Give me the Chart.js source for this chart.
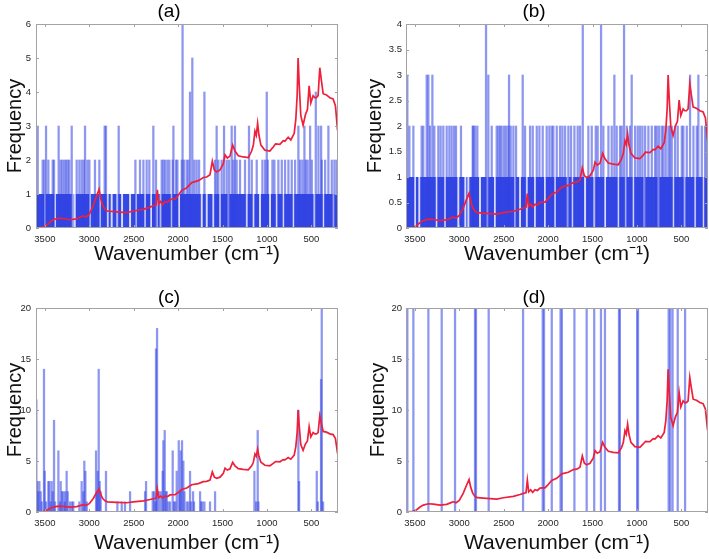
<!DOCTYPE html>
<html><head><meta charset="utf-8">
<script src="https://cdn.jsdelivr.net/npm/chart.js@4.4.1/dist/chart.umd.min.js"></script>
<style>
html,body{margin:0;padding:0;background:#fff;width:709px;height:559px;overflow:hidden}
canvas{position:absolute;display:block}
</style></head><body>
<canvas id="pa" width="350" height="280" style="left:0;top:0"></canvas>
<canvas id="pb" width="349" height="280" style="left:360px;top:0"></canvas>
<canvas id="pc" width="350" height="279" style="left:0;top:280px"></canvas>
<canvas id="pd" width="349" height="279" style="left:360px;top:280px"></canvas>
<script>
// ---------- data ----------
const wavenumberTicks = [500, 1000, 1500, 2000, 2500, 3000, 3500];
const wavenumberRange = [200, 3600];
const panelTitles = ['(a)', '(b)', '(c)', '(d)'];
const yTicksA = [0, 1, 2, 3, 4, 5, 6];
const yTicksB = [0, 0.5, 1, 1.5, 2, 2.5, 3, 3.5, 4];
const yTicksC = [0, 5, 10, 15, 20];
const yTicksD = [0, 5, 10, 15, 20];

// measured spectrum (red), read in panel (d) units (strongest band = 14)
const spectrumWavenumber = [3600,3517,3480,3442,3405,3348,3292,3217,3142,3086,3067,3037,3000,2955,2920,2890,2872,2849,2823,2797,2692,2579,2504,2391,2316,2271,2249,2234,2219,2196,2174,2147,2121,2091,2061,2035,2008,1960,1903,1847,1772,1716,1678,1641,1615,1592,1566,1528,1491,1472,1446,1416,1386,1360,1322,1266,1210,1172,1153,1135,1120,1105,1090,1068,1023,967,929,903,854,817,798,761,731,693,675,660,649,637,619,593,567,544,525,506,480,461,443,424,405,386,367,330,292,255,229,206,200];
const spectrumIntensity = [0,0.07,0.23,0.49,0.68,0.81,0.78,0.68,0.75,0.94,1.0,0.91,1.14,1.85,2.6,3.19,2.44,1.85,1.53,1.40,1.33,1.27,1.40,1.53,1.72,1.85,1.89,3.15,1.98,2.18,1.92,2.18,2.11,2.34,2.37,2.37,2.6,3.09,3.3,3.74,3.9,4.16,4.2,4.39,5.5,4.78,4.62,4.78,5.3,6.02,5.76,5.92,6.83,6.34,5.95,5.85,5.79,6.34,6.83,7.97,7.64,8.62,7.64,6.83,6.41,6.34,6.67,6.93,6.89,7.19,7.15,7.48,7.25,7.80,8.94,10.9,14.0,11.9,9.27,8.46,9.33,9.76,11.7,10.3,10.9,10.73,10.73,10.9,13.2,12.1,11.06,10.96,10.73,10.63,10.08,8.13,7.9];
const spectrumReference = 14;
const spectrumPeakA = 5, spectrumPeakB = 3, spectrumPeakC = 10, spectrumPeakD = 14;

// histogram bars [wavenumber, frequency] (frequency >= 2 in a, b)
const barsA = [[3581,3],[3525,2],[3506,2],[3487,3],[3461,2],[3412,2],[3397,2],[3345,3],[3322,2],[3303,2],
 [3281,2],[3262,2],[3243,2],[3225,2],[3198,3],[3142,2],[3112,2],[3086,2],[3063,2],[3048,3],
 [3022,2],[2999,2],[2936,2],[2887,2],[2827,3],[2812,3],[2669,3],[2481,2],[2429,2],[2391,2],
 [2354,2],[2324,2],[2279,3],[2249,2],[2185,2],[2166,2],[2147,2],[2121,2],[2098,2],[2061,2],
 [2053,3],[2023,2],[2008,2],[1959,2],[1950,6],[1933,2],[1903,2],[1884,2],[1866,4],[1840,5],
 [1817,2],[1791,2],[1764,2],[1704,4],[1584,2],[1566,3],[1547,2],[1510,2],[1483,3],[1453,2],
 [1427,2],[1397,3],[1378,2],[1360,3],[1341,2],[1303,2],[1247,2],[1202,3],[1171,2],[1115,2],
 [1051,2],[1021,2],[1002,4],[991,2],[938,2],[916,2],[871,2],[833,2],[796,2],[758,2],
 [721,2],[683,2],[646,3],[627,2],[601,2],[578,3],[563,2],[541,2],[514,3],[495,2],
 [450,4],[420,3],[390,3],[383,2],[345,2],[308,3],[270,2],[240,2],[214,2]];
// wavenumbers where the frequency-1 layer is empty
const gapsA = [3499,3386,3187,3161,2992,2879,2793,2748,2684,2631,2541,2474,2372,2305,2241,2196,2072,1990,1734,1678,1603,1528,1434,1228,1153,1078,965,890,815,702,465,364,251];

const barsB = [[3585,3],[3562,2],[3517,2],[3424,2],[3405,2],[3367,3],[3348,3],[3330,2],[3303,3],[3281,2],
 [3236,2],[3210,2],[3180,2],[3142,2],[3112,2],[3086,2],[3059,2],[3037,2],[2981,2],[2849,2],
 [2842,2],[2823,2],[2797,2],[2699,4],[2673,3],[2635,2],[2579,2],[2560,2],[2541,2],[2523,2],
 [2496,2],[2474,2],[2448,2],[2440,3],[2421,2],[2391,2],[2361,2],[2286,3],[2260,2],[2203,2],
 [2173,2],[2128,2],[2098,2],[2061,2],[2016,2],[1986,2],[1959,2],[1941,2],[1903,2],
 [1866,2],[1839,2],[1809,2],[1772,2],[1742,2],[1704,2],[1667,2],[1640,2],[1610,4],[1547,2],
 [1509,2],[1464,2],[1442,2],[1404,4],[1378,2],[1321,2],[1284,2],[1254,3],[1228,2],[1190,2],
 [1171,2],[1145,4],[1115,2],[1078,2],[1059,3],[1021,2],[991,2],[965,2],[938,2],[908,2],
 [871,2],[833,2],[796,2],[777,2],[751,2],[721,2],[702,2],[676,2],[646,2],[627,2],
 [608,2],[571,2],[541,2],[495,2],[477,2],[439,2],[402,3],[364,2],[326,2],[308,3],
 [270,2],[233,2],[214,2]];
const gapsB = [3499,3450,3255,3161,3011,2932,2898,2767,2684,2598,2372,2316,2241,2147,2035,1922,1779,1727,1584,1479,1359,1209,1126,1040,916,758,589,465,345,251];

const barsC = [[3596,11],[3585,3],[3574,2],[3562,3],[3547,2],[3536,1],[3510,14],[3502,4],[3487,1],[3461,3],
 [3450,3],[3435,1],[3424,3],[3412,2],[3397,9],[3386,1],[3348,6],[3330,1],[3322,3],[3307,2],
 [3292,2],[3277,1],[3270,2],[3255,4],[3243,2],[3217,1],[3195,1],[3180,1],[3112,1],[3086,3],
 [3067,2],[3056,5],[3044,4],[3029,1],[2924,6],[2913,2],[2905,4],[2894,14],[2883,3],[2872,2],
 [2812,4],[2684,1],[2635,1],[2598,1],[2541,2],[2372,2],[2361,3],[2286,2],[2271,2],[2256,1],
 [2249,16],[2237,18],[2219,2],[2196,2],[2174,4],[2166,7],[2151,8],[2140,2],[2128,2],[2110,1],
 [2091,1],[2061,6],[2046,1],[2031,1],[2016,4],[1993,7],[1978,2],[1971,6],[1956,7],[1941,5],
 [1929,2],[1884,1],[1903,1],[1866,4],[1854,1],[1832,2],[1821,1],[1753,2],[1742,1],[1727,1],
 [1704,1],[1641,1],[1584,2],[1141,4],[1122,1],[1104,8],[1096,1],[646,10],[638,3],[439,4],
 [428,1],[391,13],[383,20],[368,1]];

// panel (d): every bar runs past the top of the axis (shown at the 20 limit)
const barsD = [[3585,20],[3517,20],[3348,20],[3198,20],[3048,20],[2823,20],[2812,20],[2669,20],[2282,20],[2061,20],
 [2046,20],[1959,20],[1860,20],[1845,20],[1704,20],[1566,20],[1481,20],[1405,20],[1360,20],[1202,20],
 [1192,20],[998,20],[988,20],[643,20],[625,20],[599,20],[541,20],[458,20]];

// ---------- drawing ----------
const FONT = "'Liberation Sans', Arial, Helvetica, sans-serif";
const BASE_BLUE = 'rgb(52,72,228)';
const BAR_BLUE = 'rgba(50,66,228,0.55)';
const GAP = 'rgba(255,255,255,0.8)';
const RED = 'rgb(238,32,60)';

const frame = {
  id: 'frame',
  afterDatasetsDraw(chart) {
    const {ctx, chartArea: a, scales: {x, y}} = chart;
    ctx.save();
    ctx.strokeStyle = '#a3a3a3';
    ctx.lineWidth = 1;
    ctx.strokeRect(Math.round(a.left) + 0.5, Math.round(a.top) + 0.5, Math.round(a.right - a.left) - 1, Math.round(a.bottom - a.top) - 1);
    ctx.beginPath();
    x.ticks.forEach(t => {
      const p = Math.round(x.getPixelForValue(t.value)) + 0.5;
      ctx.moveTo(p, a.bottom); ctx.lineTo(p, a.bottom - 3);
      ctx.moveTo(p, a.top); ctx.lineTo(p, a.top + 3);
    });
    y.ticks.forEach(t => {
      const p = Math.round(y.getPixelForValue(t.value)) + 0.5;
      ctx.moveTo(a.left, p); ctx.lineTo(a.left + 3, p);
      ctx.moveTo(a.right, p); ctx.lineTo(a.right - 3, p);
    });
    ctx.stroke();
    ctx.restore();
  }
};

function build(id, P) {
  const datasets = [];
  if (P.gaps) {
    datasets.push({type: 'line', data: wavenumberRange.map(w => ({x: w, y: 1})), fill: 'origin',
      backgroundColor: BASE_BLUE, borderColor: 'transparent', borderWidth: 0, pointRadius: 0, order: 5});
    datasets.push({type: 'bar', data: P.gaps.map(w => ({x: w, y: 1})), backgroundColor: GAP,
      barThickness: 1.3, grouped: false, order: 4});
  }
  datasets.push({type: 'bar', data: P.bars.map(b => ({x: b[0], y: b[1]})), backgroundColor: BAR_BLUE,
    barThickness: 1.6, grouped: false, order: 3});
  datasets.push({type: 'line', data: spectrumWavenumber.map((w, i) => ({x: w, y: spectrumIntensity[i] * P.peak / spectrumReference})),
    borderColor: RED, borderWidth: 1.7, pointRadius: 0, fill: false, tension: 0, order: 1});

  new Chart(document.getElementById(id), {
    type: 'bar',
    data: {datasets},
    plugins: [frame],
    options: {
      responsive: false, animation: false, devicePixelRatio: 1,
      layout: {padding: {left: 0, right: P.pr, top: 0, bottom: 0}},
      plugins: {
        legend: {display: false}, tooltip: {enabled: false},
        title: {display: true, text: P.title, color: '#000',
          font: {family: FONT, size: 19, weight: 'normal', lineHeight: 1},
          padding: {top: P.tt, bottom: P.tb}}
      },
      scales: {
        x: {type: 'linear', min: wavenumberRange[0], max: wavenumberRange[1], reverse: true, offset: false,
          afterBuildTicks: s => { s.ticks = wavenumberTicks.map(v => ({value: v})); },
          afterFit: s => { s.height = P.xh; },
          grid: {display: false, drawTicks: false}, border: {display: false},
          ticks: {autoSkip: false, maxRotation: 0, padding: 5.3, color: '#262626',
            font: {family: FONT, size: 9.5}, callback: v => String(v)},
          title: {display: true, text: 'Wavenumber (cm⁻¹)', color: '#111',
            font: {family: FONT, size: 21, lineHeight: 1.2}, padding: {top: 0, bottom: P.xtb}}},
        y: {type: 'linear', min: 0, max: P.yticks[P.yticks.length - 1],
          afterBuildTicks: s => { s.ticks = P.yticks.map(v => ({value: v})); },
          afterFit: s => { s.width = P.yw; },
          grid: {display: false, drawTicks: false}, border: {display: false},
          ticks: {autoSkip: false, padding: P.ypad, color: '#262626',
            font: {family: FONT, size: 9.5}, callback: v => String(v)},
          title: {display: true, text: 'Frequency', color: '#111',
            font: {family: FONT, size: 20, lineHeight: 1.2}, padding: {top: P.ytp, bottom: 0}}}
      }
    }
  });
}

build('pa', {title: panelTitles[0], bars: barsA, gaps: gapsA, peak: spectrumPeakA, yticks: yTicksA,
  pr: 12, tt: 2, tb: 3, xh: 52, xtb: 13.4, yw: 36, ypad: 5, ytp: 3});
build('pb', {title: panelTitles[1], bars: barsB, gaps: gapsB, peak: spectrumPeakB, yticks: yTicksB,
  pr: 1, tt: 2, tb: 3, xh: 52, xtb: 13.4, yw: 46, ypad: 4, ytp: 3});
build('pc', {title: panelTitles[2], bars: barsC, gaps: null, peak: spectrumPeakC, yticks: yTicksC,
  pr: 12, tt: 8, tb: 1, xh: 47, xtb: 3.4, yw: 36, ypad: 5, ytp: 3});
build('pd', {title: panelTitles[3], bars: barsD, gaps: null, peak: spectrumPeakD, yticks: yTicksD,
  pr: 1, tt: 8, tb: 1, xh: 47, xtb: 3.4, yw: 46, ypad: 4, ytp: 6});
</script>
</body></html>
